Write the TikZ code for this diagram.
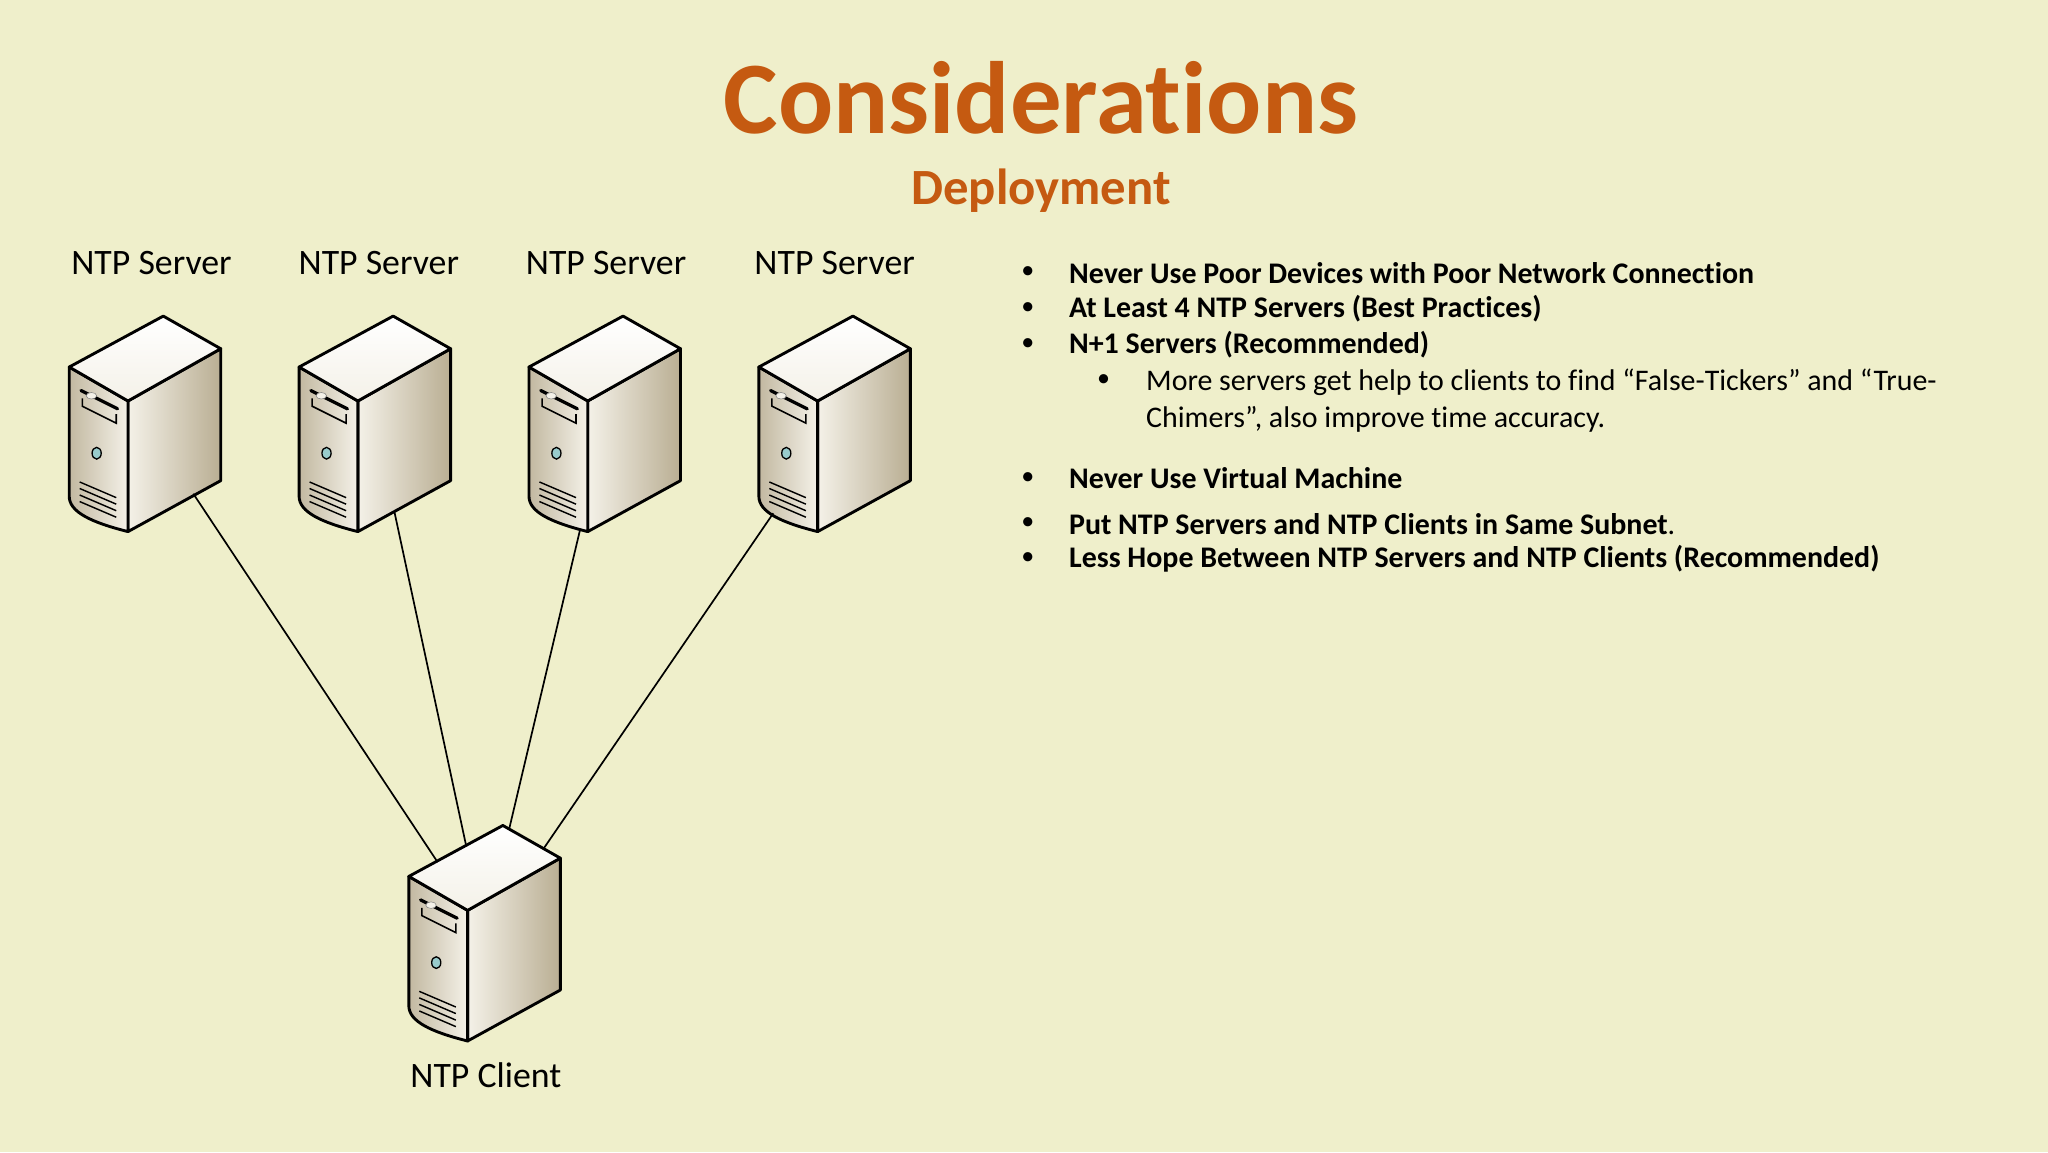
\documentclass[tikz,border=0pt]{standalone}
\usepackage{fontspec}
\setmainfont{Carlito}[Ligatures=NoCommon]
\begin{document}
\definecolor{bg}{HTML}{EFEFCB}
\definecolor{org}{HTML}{C55A11}
\definecolor{tan}{HTML}{A89A78}
\definecolor{cream}{HTML}{F4F1E8}
\begin{tikzpicture}[x=1bp,y=-1bp,
  lbl/.style={font=\fontsize{27.5}{32}\selectfont,anchor=center},
  bul/.style={font=\fontsize{23}{28}\selectfont\bfseries,anchor=west},
  sub/.style={font=\fontsize{23}{28}\selectfont,anchor=west,align=left},
  dot/.style={font=\fontsize{20}{24}\selectfont,anchor=center},
  link/.style={black,line width=1.3bp},
  pics/server/.style={code={
    \shade[left color=cream,right color=tan!80,draw=black,line width=2.2bp,line join=round]
      (-27,65) -- (44,25) -- (44,126) -- (-27,165) -- cycle;
    \shade[left color=tan!70,right color=cream,draw=black,line width=2.2bp,line join=round]
      (-72,39) .. controls (-50,52) .. (-27,65) -- (-27,165) .. controls (-55,158) and (-72,150) .. (-72,138) -- cycle;
    \shade[top color=white,bottom color=cream,draw=black,line width=2.2bp,line join=round]
      (0,0) -- (44,25) -- (-27,65) .. controls (-50,52) .. (-72,39) -- cycle;
    \draw[line width=2.5bp,line cap=round] (-63,57) -- (-35,71);
    \draw[line width=1.2bp] (-62,63) -- (-62,69) -- (-36,82) -- (-36,75);
    \fill[cream,draw=gray] (-55,61) ellipse (4 and 2.5);
    \filldraw[fill=teal!40,draw=black,line width=1bp] (-51,105) ellipse (3.5 and 4.5);
    \foreach \i in {0,5,10,15}{\draw[line width=1.1bp] (-64,127+\i) -- (-36,139+\i);}
  }}]
\fill[bg] (0,0) rectangle (1568,882);
\useasboundingbox (0,0) rectangle (1568,882);
\node[font=\fontsize{79}{86}\selectfont\bfseries,text=org] (title) at (797,75) {Considerations};
\node[font=\fontsize{39}{44}\selectfont\bfseries,text=org] (subt) at (797,146) {Deployment};
\foreach \n/\x/\lx in {1/125/116,2/301/290,3/477/464,4/653/639}{
  \pic at (\x,242) {server};
  \node[lbl] (l\n) at (\lx,201) {NTP Server};
}
\pic at (385,632) {server};
\node[lbl] (lc) at (372,823) {NTP Client};
\coordinate (a1) at (148,378); \coordinate (a2) at (302,392);
\coordinate (a3) at (444,406); \coordinate (a4) at (592,393);
\coordinate (c1) at (335,660); \coordinate (c2) at (357,648);
\coordinate (c3) at (390,634); \coordinate (c4) at (416,650);
\foreach \i in {1,2,3,4}{\draw[link] (a\i) -- (c\i);}
\foreach \y in {209,236,264,366,401,428}{\node[dot] at (787,\y) {•};}
\node[dot] at (845,291) {•};
\node[bul] (b1) at (815,209) {Never Use Poor Devices with Poor Network Connection};
\node[bul] (b2) at (815,236) {At Least 4 NTP Servers (Best Practices)};
\node[bul] (b3) at (815,264) {N+1 Servers (Recommended)};
\node[sub,anchor=north west] (b4) at (874,279) {More servers get help to clients to find “False-Tickers” and “True-\\Chimers”, also improve time accuracy.};
\node[bul] (b5) at (815,366) {Never Use Virtual Machine};
\node[bul] (b6) at (815,401) {Put NTP Servers and NTP Clients in Same Subnet\mdseries.};
\node[bul] (b7) at (815,428) {Less Hope Between NTP Servers and NTP Clients (Recommended)};
\end{tikzpicture}
\end{document}
